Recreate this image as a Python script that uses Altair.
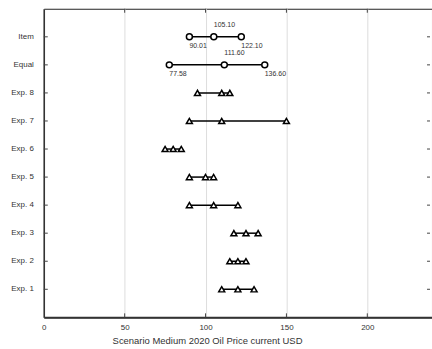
import altair as alt
import pandas as pd

categories = ["Exp. 1", "Exp. 2", "Exp. 3", "Exp. 4", "Exp. 5", "Exp. 6", "Exp. 7", "Exp. 8", "Equal", "Item"]
low = [110, 115, 117.5, 90, 90, 75, 90, 95, 77.58, 90.01]
mid = [120, 120, 125, 105, 100, 80, 110, 110, 111.60, 105.10]
high = [130, 125, 132.5, 120, 105, 85, 150, 115, 136.60, 122.10]
marker = ["triangle", "triangle", "triangle", "triangle", "triangle", "triangle", "triangle", "triangle", "circle", "circle"]
labeled = ["Equal", "Item"]
x_ticks = [0, 50, 100, 150, 200]

pos = list(range(1, len(categories) + 1))
rows = pd.DataFrame({"cat": categories, "pos": pos, "low": low, "mid": mid, "high": high, "marker": marker})
pts = rows.melt(id_vars=["cat", "pos", "marker"], value_vars=["low", "mid", "high"], var_name="kind", value_name="v")
lab = pts[pts["cat"].isin(labeled)].copy()
lab["txt"] = lab["v"].map(lambda v: f"{v:.2f}")

xscale = alt.Scale(domain=[0, 240], nice=False, zero=False)
yscale = alt.Scale(domain=[0, 11], nice=False, zero=False)
xaxis = alt.Axis(values=x_ticks, title="Scenario Medium 2020 Oil Price current USD",
                 grid=True, gridColor="#dddddd", gridWidth=1, tickSize=0,
                 labelPadding=6, labelFont="Liberation Sans", labelFontSize=8, labelColor="#333",
                 titleFont="Liberation Sans", titleFontSize=9.5, titleFontWeight="normal", titleColor="#333",
                 titleX=164, titleY=26, titleBaseline="alphabetic",
                 domainColor="#333", domainWidth=2, labelFlush=False, labelOverlap=False)
yaxis = alt.Axis(values=pos, labels=False, grid=False, ticks=False, title=None,
                 domainColor="#333", domainWidth=1.5)

lines = alt.Chart(rows).mark_rule(color="black", strokeWidth=1.5).encode(
    x=alt.X("low:Q", scale=xscale, axis=xaxis),
    x2="high:Q",
    y=alt.Y("pos:Q", scale=yscale, axis=yaxis))

points = alt.Chart(pts).mark_point(filled=True, fill="white", stroke="black", strokeWidth=1.5, size=36, opacity=1).encode(
    x=alt.X("v:Q", scale=xscale, axis=xaxis), y=alt.Y("pos:Q", scale=yscale, axis=yaxis),
    shape=alt.Shape("marker:N", scale=alt.Scale(domain=["circle", "triangle"], range=["circle", "triangle-up"]), legend=None))

cat_labels = alt.Chart(rows).mark_text(align="right", baseline="middle", font="Liberation Sans",
    fontSize=8, color="#333").encode(x=alt.value(-10), y="pos:Q", text="cat:N")

above = alt.Chart(lab[lab["kind"] == "mid"]).mark_text(align="left", baseline="middle", dy=-12,
    font="Liberation Sans", fontSize=7, color="#333").encode(x="v:Q", y="pos:Q", text="txt:N")
below = alt.Chart(lab[lab["kind"] != "mid"]).mark_text(align="left", baseline="middle", dy=9,
    font="Liberation Sans", fontSize=7, color="#333").encode(x="v:Q", y="pos:Q", text="txt:N")

tickdf = pd.DataFrame({"v": x_ticks[1:]})
top_ticks = alt.Chart(tickdf).mark_rule(color="#444", strokeWidth=1).encode(
    x="v:Q", y=alt.value(0), y2=alt.value(4))
bot_ticks = alt.Chart(tickdf).mark_rule(color="#444", strokeWidth=1).encode(
    x="v:Q", y=alt.value(306), y2=alt.value(310))
left_ticks = alt.Chart(rows).mark_rule(color="#444", strokeWidth=1).encode(
    y="pos:Q", x=alt.value(0), x2=alt.value(4))
right_ticks = alt.Chart(rows).mark_rule(color="#444", strokeWidth=1).encode(
    y="pos:Q", x=alt.value(385), x2=alt.value(388))

chart = alt.layer(lines, points, cat_labels, above, below, top_ticks, bot_ticks, left_ticks, right_ticks).properties(
    width=390, height=310,
    autosize=alt.AutoSizeParams(type="none"),
    padding={"left": 44, "top": 8, "right": 0, "bottom": 31},
).configure(background="white").configure_view(stroke="#222", strokeWidth=1)

chart.save("out.html", embed_options={"renderer": "svg", "actions": False})
